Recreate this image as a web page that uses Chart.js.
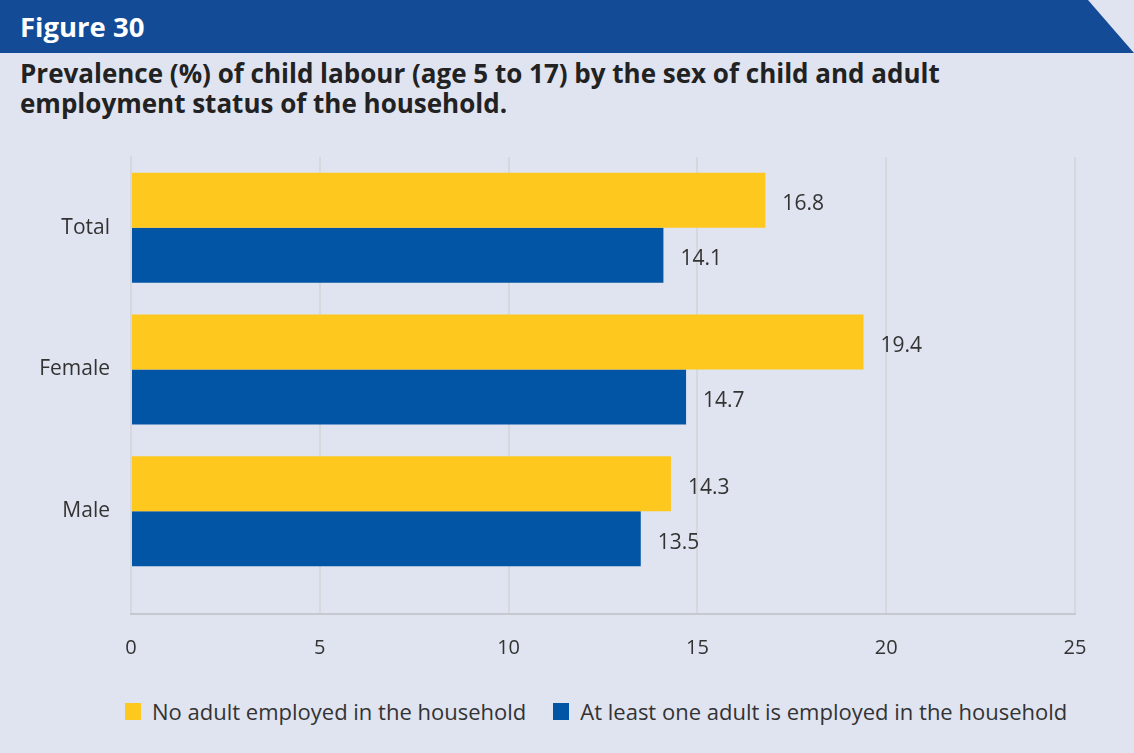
<!DOCTYPE html>
<html>
<head>
<meta charset="utf-8">
<script src="https://cdn.jsdelivr.net/npm/chart.js@4/dist/chart.umd.min.js"></script>
<style>
  body { margin: 0; background: #fff; font-family: "Open Sans", sans-serif; }
  #page { position: relative; width: 1134px; height: 753px; background: #e0e4f0; overflow: hidden; }
  #band { position: absolute; left: 0; top: 0; width: 1134px; height: 53px; background: #134b96;
          clip-path: polygon(0 0, 1088px 0, 1134px 53px, 0 53px); }
  #band span { position: absolute; left: 20px; top: 8px; color: #fff; font-weight: 700; font-size: 27.5px; }
  #title { position: absolute; left: 20px; top: 58px; width: 1000px; color: #222; font-weight: 700;
           font-size: 26px; line-height: 30px; }
  #wrap { position: absolute; left: 0; top: 125px; width: 1134px; height: 555px; }
  #legend { position: absolute; left: 125px; top: 696px; display: flex; align-items: center;
            font-size: 22px; color: #333; }
  .item { display: flex; align-items: center; margin-right: 27px; }
  .sw { width: 16px; height: 17px; margin-right: 11px; }
</style>
</head>
<body>
<div id="page">
  <div id="band"><span>Figure 30</span></div>
  <div id="title">Prevalence (%) of child labour (age 5 to 17) by the sex of child and adult<br>employment status of the household.</div>
  <div id="wrap"><canvas id="chart"></canvas></div>
  <div id="legend"></div>
</div>
<script>
const categories = ['Total', 'Female', 'Male'];
const seriesNames = ['No adult employed in the household', 'At least one adult is employed in the household'];
const noAdult = [16.8, 19.4, 14.3];
const oneAdult = [14.1, 14.7, 13.5];
const xTicks = [0, 5, 10, 15, 20, 25];
const colors = ['#fec81e', '#0255a5'];

const valueLabels = {
    id: 'valueLabels',
    afterDatasetsDraw(chart) {
        const ctx = chart.ctx;
        ctx.save();
        ctx.font = '21px "Open Sans"';
        ctx.fillStyle = '#333';
        ctx.textBaseline = 'middle';
        ctx.textAlign = 'left';
        chart.data.datasets.forEach((ds, i) => {
            chart.getDatasetMeta(i).data.forEach((bar, j) => {
                ctx.fillText(ds.data[j].toFixed(1), bar.x + 17, bar.y + 4);
            });
        });
        ctx.restore();
    }
};

// bottom axis line sits at the end of the extended grid ticks
const axisLine = {
    id: 'axisLine',
    afterDraw(chart) {
        const ctx = chart.ctx;
        const area = chart.chartArea;
        const y = area.bottom + 32;
        ctx.save();
        ctx.strokeStyle = '#c6c8d0';
        ctx.lineWidth = 2;
        ctx.beginPath();
        ctx.moveTo(area.left - 1, y);
        ctx.lineTo(area.right + 1, y);
        ctx.stroke();
        ctx.restore();
    }
};

const ctx = document.getElementById('chart').getContext('2d');
new Chart(ctx, {
    type: 'bar',
    data: {
        labels: categories,
        datasets: [
            { label: seriesNames[0], data: noAdult, backgroundColor: colors[0] },
            { label: seriesNames[1], data: oneAdult, backgroundColor: colors[1] }
        ]
    },
    options: {
        indexAxis: 'y',
        responsive: true,
        maintainAspectRatio: false,
        animation: false,
        layout: { padding: { top: 32, right: 59, left: 0, bottom: 0 } },
        datasets: { bar: { categoryPercentage: 0.777, barPercentage: 1 } },
        plugins: { legend: { display: false }, tooltip: { enabled: false } },
        scales: {
            x: {
                min: 0,
                max: 25,
                afterBuildTicks: (scale) => { scale.ticks = xTicks.map(v => ({ value: v })); },
                afterFit: (scale) => { scale.height = 98; },
                grid: { color: '#d6d8de', lineWidth: 2, tickLength: 32, drawTicks: true, tickColor: '#d6d8de' },
                border: { display: false },
                ticks: { color: '#333', font: { family: 'Open Sans', size: 20 }, padding: 22 }
            },
            y: {
                afterFit: (scale) => { scale.width = 131; },
                grid: { display: false },
                border: { color: '#d6d8de', width: 2 },
                ticks: { color: '#333', font: { family: 'Open Sans', size: 21 }, padding: 13 }
            }
        }
    },
    plugins: [valueLabels, axisLine]
});

const legend = document.getElementById('legend');
seriesNames.forEach((name, i) => {
    const item = document.createElement('div');
    item.className = 'item';
    item.innerHTML = '<div class="sw" style="background:' + colors[i] + '"></div><span>' + name + '</span>';
    legend.appendChild(item);
});
</script>
</body>
</html>
